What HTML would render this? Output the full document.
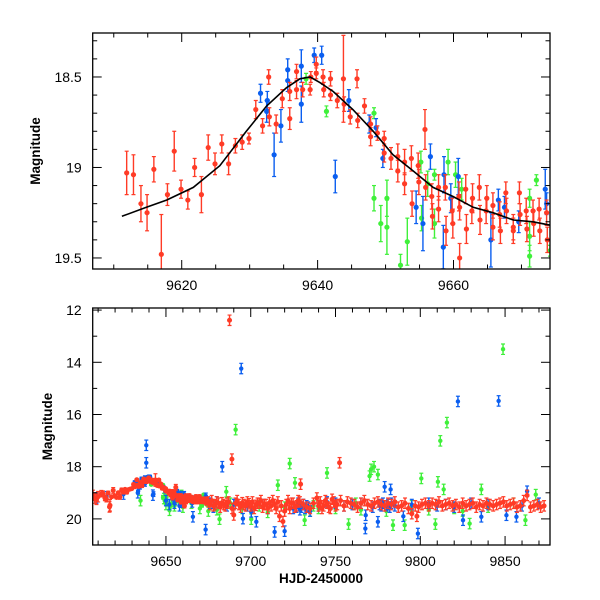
<!DOCTYPE html>
<html><head><meta charset="utf-8"><style>
html,body{margin:0;padding:0;background:#fff;}
svg{display:block;font-family:"Liberation Sans",sans-serif;}
</style></head><body>
<svg id="chart" width="600" height="600" viewBox="0 0 600 600"></svg>
<script>
// ---------- data: top panel (zoom on peak) ----------
const redT=[9611.9,9612.9,9614.0,9614.9,9615.9,9617.0,9617.9,9618.9,9619.9,9620.9,9621.9,9622.9,9623.9,9624.9,9625.9,9626.9,9627.9,9628.9,9629.9,9630.9,9631.9,9632.8,9632.9,9633.9,9634.8,9635.9,9635.9,9636.9,9636.9,9637.8,9638.9,9639.0,9639.8,9639.8,9640.8,9640.9,9641.9,9641.9,9642.9,9643.8,9643.9,9644.8,9645.8,9645.9,9646.9,9647.8,9647.8,9648.8,9649.8,9649.8,9650.8,9651.8,9651.8,9652.8,9652.8,9653.8,9653.9,9654.8,9654.9,9655.8,9655.9,9656.8,9656.9,9657.8,9657.8,9658.8,9658.9,9659.8,9659.9,9660.8,9660.9,9660.9,9661.8,9661.9,9662.7,9662.8,9663.8,9663.9,9664.8,9664.9,9665.8,9665.8,9666.8,9666.9,9667.7,9667.8,9668.8,9668.8,9669.7,9669.8,9670.7,9670.8,9671.7,9671.8,9672.6,9672.7,9673.7,9673.8];
const redM=[19.03,19.04,19.20,19.25,19.01,19.48,19.15,18.91,19.12,19.18,19.00,19.15,18.89,18.98,18.87,18.98,18.88,18.86,18.84,18.68,18.77,18.50,18.72,18.76,18.62,18.73,18.58,18.57,18.47,18.57,18.57,18.50,18.43,18.48,18.50,18.57,18.51,18.60,18.63,18.51,18.65,18.72,18.51,18.74,18.66,18.76,18.83,18.81,18.84,18.92,18.95,18.94,19.02,18.97,19.09,18.95,19.20,18.99,19.08,18.79,19.11,19.16,19.27,19.11,19.23,19.11,19.35,19.24,19.31,19.16,19.22,19.50,19.12,19.34,19.24,19.17,19.11,19.29,19.24,19.17,19.21,19.33,19.26,19.35,19.14,19.24,19.33,19.35,19.14,19.26,19.24,19.34,19.24,19.31,19.23,19.35,19.25,19.40];
const redE=[0.12,0.11,0.10,0.10,0.07,0.22,0.06,0.11,0.05,0.05,0.05,0.10,0.07,0.06,0.05,0.06,0.04,0.04,0.03,0.05,0.04,0.04,0.05,0.05,0.05,0.06,0.05,0.05,0.04,0.04,0.03,0.03,0.04,0.03,0.04,0.04,0.04,0.03,0.04,0.24,0.04,0.04,0.05,0.04,0.04,0.04,0.05,0.04,0.04,0.05,0.06,0.07,0.06,0.07,0.06,0.07,0.07,0.07,0.07,0.11,0.07,0.07,0.07,0.07,0.07,0.07,0.08,0.07,0.08,0.08,0.07,0.08,0.08,0.08,0.07,0.08,0.07,0.08,0.07,0.07,0.07,0.07,0.07,0.07,0.06,0.07,0.07,0.07,0.06,0.06,0.07,0.07,0.06,0.07,0.06,0.07,0.07,0.07];
const blueT=[9631.6,9632.6,9632.5,9633.6,9634.6,9635.6,9635.6,9637.6,9637.6,9639.5,9640.6,9642.6,9644.6,9647.6,9648.6,9649.6,9654.5,9655.5,9656.6,9658.5,9658.6,9659.6,9660.7,9665.5,9666.6,9667.5,9669.6,9673.5,9673.7];
const blueM=[18.59,18.63,18.69,18.93,18.77,18.46,18.52,18.44,18.65,18.38,18.38,19.05,18.63,18.76,18.78,18.95,19.22,19.31,18.94,19.44,19.04,19.17,19.05,19.40,19.18,19.22,19.30,19.12,19.20];
const blueE=[0.05,0.05,0.06,0.12,0.09,0.06,0.06,0.09,0.10,0.04,0.05,0.09,0.06,0.05,0.05,0.05,0.09,0.15,0.07,0.12,0.10,0.08,0.10,0.15,0.06,0.06,0.06,0.11,0.06];
const greenT=[9638.3,9641.3,9648.3,9648.3,9649.3,9650.2,9650.2,9652.2,9653.2,9655.2,9655.3,9656.2,9657.2,9657.2,9659.2,9660.3,9661.2,9671.2,9671.2,9671.2,9672.2,9674.2];
const greenM=[18.51,18.69,18.70,19.17,19.31,19.17,19.33,19.54,19.41,18.97,19.28,19.09,19.04,19.31,18.97,19.04,19.12,19.17,19.38,19.49,19.07,19.46];
const greenE=[0.03,0.03,0.03,0.07,0.10,0.10,0.15,0.06,0.13,0.06,0.07,0.07,0.03,0.08,0.07,0.07,0.06,0.05,0.08,0.06,0.03,0.03];
const fitT=[9611.2,9614.8,9617.8,9621.7,9625.6,9629.5,9632.5,9635.4,9637.4,9638.9,9640.3,9642.3,9645.2,9648.2,9651.1,9654.1,9657.0,9659.9,9662.9,9665.8,9668.8,9671.7,9674.4];
const fitM=[19.27,19.22,19.18,19.11,18.99,18.80,18.66,18.56,18.51,18.50,18.53,18.58,18.68,18.80,18.93,19.02,19.11,19.16,19.22,19.25,19.29,19.30,19.32];
// ---------- data: bottom panel extras (full season) ----------
const redXT=[9607,9608,9609,9610,9616.7,9675,9676,9677,9678,9679,9680,9681,9682,9683,9684,9685,9686,9687,9687.5,9688.9,9689,9690,9691,9692,9693,9694,9695,9696,9697,9698,9699,9700,9701,9702,9703,9704,9705,9706,9707,9708,9709,9710,9711,9712,9713,9714,9715,9716,9717,9718,9719,9720,9721,9722,9723,9724,9725,9726,9727,9728,9729,9729.4,9731,9733,9735,9737,9739,9740,9741,9742,9743,9744,9745,9746,9747,9748,9749,9750,9751,9752.4,9753,9755,9757,9759,9761,9763,9765,9767,9769,9771,9773,9775,9777,9779,9781,9783,9785,9787,9789,9791,9793,9795,9797,9798,9799,9801,9803,9805,9807,9809,9811,9813,9815,9817,9819,9821,9823,9825,9827,9829,9831,9833,9835,9837,9839,9841,9843,9845,9847,9849,9851,9853,9855,9857,9859,9861,9863,9865,9867,9869,9871,9873];
const redXM=[19.10,19.20,19.25,19.15,19.54,19.35,19.45,19.30,19.50,19.45,19.35,19.40,19.55,19.38,19.45,19.50,19.40,19.35,12.39,17.71,19.60,19.85,19.40,19.30,19.45,19.55,19.38,19.45,19.50,19.35,19.42,19.50,19.35,19.60,19.48,19.40,19.40,19.30,19.55,19.45,19.45,19.60,19.38,19.50,19.30,19.45,19.60,19.35,19.90,19.50,20.10,19.70,19.45,19.30,19.60,19.40,19.40,19.55,19.50,19.30,19.35,18.67,19.45,19.55,19.60,19.40,19.20,19.50,19.35,19.60,19.50,19.30,19.40,19.55,19.60,19.25,19.35,19.50,19.45,17.85,19.30,19.50,19.35,19.40,19.45,19.55,19.40,19.30,19.45,19.50,19.40,19.35,19.45,19.50,19.40,19.45,19.35,19.55,19.50,19.40,19.60,19.80,19.50,19.90,19.55,19.45,19.40,19.50,19.40,19.45,19.35,19.50,19.45,19.40,19.50,19.45,19.55,19.40,19.50,19.45,19.40,19.55,19.45,19.50,19.40,19.45,19.50,19.45,19.40,19.35,19.50,19.45,19.40,19.55,19.50,19.30,19.10,19.55,19.50,19.45,19.55,19.50];
const blueXT=[9609,9615,9625,9633.4,9638.4,9638.4,9642.3,9650,9652,9655,9658,9660,9665.9,9673.4,9676,9678,9680,9683.2,9686,9690,9694.4,9695.4,9698,9700.3,9703.3,9708,9710,9714.1,9720,9725,9727,9728,9729,9730,9731,9732,9733,9734,9735,9740,9745,9750,9755,9760,9765,9767.6,9767.8,9772,9775,9776,9777,9778,9779,9780,9781,9782,9782.5,9783,9785,9790,9795,9798.6,9805,9810,9815,9820,9822.2,9825.2,9830,9836,9840,9846.2,9850.8,9856.7,9860,9863,9870];
const blueXM=[19.20,19.15,19.05,19.00,17.18,17.85,19.09,19.30,19.45,19.40,19.50,19.35,19.92,20.41,19.40,19.55,19.35,18.00,19.50,19.45,14.24,19.99,19.50,19.73,20.11,19.45,19.60,20.50,20.47,19.60,19.55,19.40,19.65,19.55,19.45,19.60,19.50,19.55,19.70,19.50,19.35,19.40,19.50,19.45,19.40,20.37,19.86,19.55,20.11,19.45,19.50,19.40,18.77,19.50,19.45,19.55,18.87,19.40,19.50,19.90,19.45,20.56,19.40,19.50,19.45,19.55,15.50,20.05,19.40,19.92,19.45,15.48,19.86,19.92,19.50,18.94,19.40];
const greenXT=[9635,9648.8,9650,9652.1,9655,9660,9665,9670,9675,9680,9681.6,9685.6,9688,9691.1,9695,9700.3,9705,9710,9716,9720,9723,9726.1,9731.8,9735,9737,9740,9745,9750,9757.7,9762,9765,9770.1,9771,9772.7,9775,9780,9783.9,9790.8,9795,9800.6,9805,9808.9,9810.4,9811.8,9813.8,9815.7,9820,9825,9829.1,9836,9840,9848.8,9855,9862,9868.1];
const greenXM=[19.30,19.22,19.45,19.67,19.50,19.55,19.40,19.60,19.70,19.65,20.01,18.96,19.40,16.58,19.60,20.01,19.50,19.75,18.71,19.55,17.88,18.62,20.05,19.70,19.50,19.60,18.24,19.60,20.20,19.40,19.65,18.36,18.10,18.00,18.30,19.70,20.24,20.24,19.50,18.45,19.65,20.20,18.58,17.01,18.87,16.31,19.60,19.70,20.18,18.87,19.55,13.50,19.40,20.05,19.07];

// ---------- helpers ----------
const NS='http://www.w3.org/2000/svg';
const svg=document.getElementById('chart');
function mk(tag,attrs,parent){const e=document.createElementNS(NS,tag);for(const k in attrs)e.setAttribute(k,attrs[k]);(parent||svg).appendChild(e);return e;}
const COL={red:'#ff3b26',blue:'#0a5ef0',green:'#3ff03a'};

function panel(p){
  const sx=t=>p.x0+(t-p.t0)/(p.t1-p.t0)*(p.x1-p.x0);
  const sy=m=>p.y0+(m-p.m0)/(p.m1-p.m0)*(p.y1-p.y0);
  const g=mk('g',{});
  
  
  const cid='clip-'+p.name;
  const cp=mk('clipPath',{id:cid},g);
  mk('rect',{x:p.x0,y:p.y0,width:p.x1-p.x0,height:p.y1-p.y0},cp);
  const plot=mk('g',{'clip-path':'url(#'+cid+')'},g);
  function series(name,T,M,E,col,r,defE){
    const sg=mk('g',{},plot);
    
    
    for(let i=0;i<T.length;i++){
      const x=sx(T[i]),y=sy(M[i]);const e=E?E[i]:defE;
      const ya=sy(M[i]-e),yb=sy(M[i]+e);
      mk('line',{x1:x,y1:ya,x2:x,y2:yb,stroke:col,'stroke-width':1.4},sg);
      mk('line',{x1:x-2,y1:ya,x2:x+2,y2:ya,stroke:col,'stroke-width':1.2},sg);
      mk('line',{x1:x-2,y1:yb,x2:x+2,y2:yb,stroke:col,'stroke-width':1.2},sg);
      const c=mk('circle',{cx:x,cy:y,r:r,fill:col},sg);
      
      
    }
  }
  p.draw(series,plot,sx,sy);
  const fr=mk('rect',{x:p.x0,y:p.y0,width:p.x1-p.x0,height:p.y1-p.y0,fill:'none',stroke:'#000','stroke-width':1.3},g);
  
  
  for(let t=Math.ceil(p.t0/p.xminor)*p.xminor;t<=p.t1;t+=p.xminor){
    const x=sx(t);const major=Math.abs(t/p.xmajor-Math.round(t/p.xmajor))<1e-6;const L=major?9:4.5;
    mk('line',{x1:x,y1:p.y1,x2:x,y2:p.y1-L,stroke:'#000','stroke-width':1},g);
    mk('line',{x1:x,y1:p.y0,x2:x,y2:p.y0+L,stroke:'#000','stroke-width':1},g);
    if(major){const tx=mk('text',{x:x,y:p.y1+21,'text-anchor':'middle','font-size':14},g);tx.textContent=t;
      }
  }
  for(let k=Math.ceil(p.m0/p.yminor-1e-6);k*p.yminor<=p.m1+1e-6;k++){
    const m=k*p.yminor;const y=sy(m);const major=Math.abs(m/p.ymajor-Math.round(m/p.ymajor))<1e-6;const L=major?9:4.5;
    mk('line',{x1:p.x0,y1:y,x2:p.x0+L,y2:y,stroke:'#000','stroke-width':1},g);
    mk('line',{x1:p.x1,y1:y,x2:p.x1-L,y2:y,stroke:'#000','stroke-width':1},g);
    if(major){const tx=mk('text',{x:p.x0-11,y:y+5,'text-anchor':'end','font-size':14},g);tx.textContent=p.yfmt(m);
      }
  }
  const yt=mk('text',{x:0,y:0,'text-anchor':'middle','font-size':13.5,'font-weight':'bold',transform:'translate('+p.ytx+','+((p.y0+p.y1)/2)+') rotate(-90)'},g);
  yt.textContent='Magnitude';
  
  
}

panel({name:'top-panel',x0:92.7,x1:550,y0:33,y1:269,t0:9606.9,t1:9674.2,m0:18.257,m1:19.561,
  xminor:5,xmajor:20,yminor:0.1,ymajor:0.5,ytx:40,yfmt:m=>(Math.round(m*10)/10).toString(),
  draw:(series,plot,sx,sy)=>{
    series('green-series',greenT,greenM,greenE,COL.green,2.6);
    series('blue-series',blueT,blueM,blueE,COL.blue,2.6);
    series('red-series',redT,redM,redE,COL.red,2.6);
    const d=fitT.map((t,i)=>(i?'L':'M')+sx(t).toFixed(1)+','+sy(fitM[i]).toFixed(1)).join(' ');
    const f=mk('path',{d:d,fill:'none',stroke:'#000','stroke-width':1.6},plot);
    
    
  }});

panel({name:'bottom-panel',x0:92.7,x1:550,y0:308,y1:545,t0:9606.8,t1:9876.5,m0:11.92,m1:21.0,
  xminor:10,xmajor:50,yminor:1,ymajor:2,ytx:52,yfmt:m=>Math.round(m).toString(),
  draw:(series)=>{
    series('green-series-full',greenT,greenM,greenE,COL.green,2.2);
    series('green-series-extra',greenXT,greenXM,null,COL.green,2.2,0.2);
    series('blue-series-full',blueT,blueM,blueE,COL.blue,2.2);
    series('blue-series-extra',blueXT,blueXM,null,COL.blue,2.2,0.2);
    series('red-series-full',redT,redM,redE,COL.red,2.5);
    series('red-series-extra',redXT,redXM,null,COL.red,2.5,0.2);
  }});

const xt=mk('text',{x:321,y:583,'text-anchor':'middle','font-size':13.5,'font-weight':'bold'});
xt.textContent='HJD-2450000';


</script>
</body></html>
